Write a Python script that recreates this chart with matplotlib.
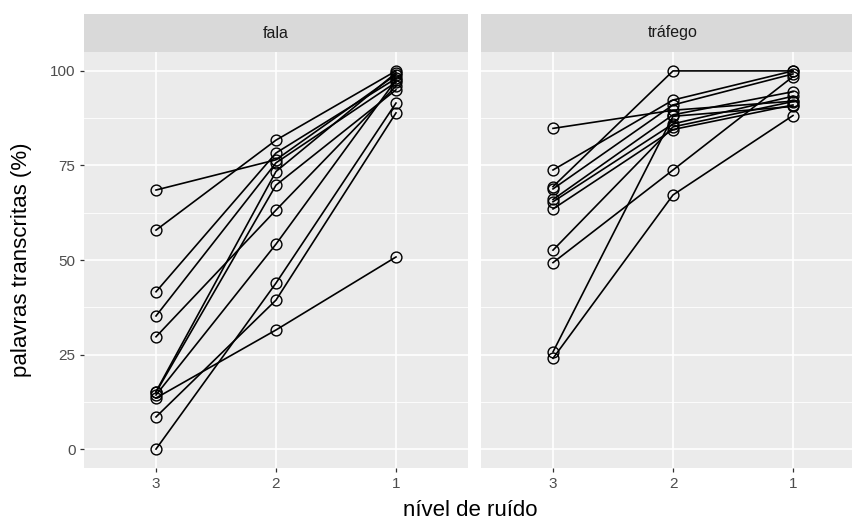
import matplotlib
matplotlib.use("Agg")
import matplotlib.pyplot as plt

plt.rcParams["font.family"] = ["Liberation Sans", "DejaVu Sans"]

# ---------------- data ----------------
levels = ["3", "2", "1"]
y_ticks = [0, 25, 50, 75, 100]
facets = ["fala", "tráfego"]

# fala: one entry per participant, level 3 -> 2 -> 1
fala_n3 = [68.5, 57.9, 41.6, 35.2, 29.7, 15.2, 15.0, 14.3, 13.5, 8.5, 0.0]
fala_n2 = [76.5, 81.7, 78.3, 75.7, 63.2, 73.4, 69.8, 54.2, 31.5, 39.4, 43.9]
fala_n1 = [99.0, 100.0, 98.0, 97.0, 96.0, 99.5, 95.0, 97.6, 50.8, 88.9, 91.5]

# tráfego
trafego_n3 = [84.8, 73.8, 69.4, 68.8, 66.0, 65.4, 63.5, 52.6, 49.3, 25.7, 24.0]
trafego_n2 = [89.6, 92.3, 100.0, 91.0, 88.4, 86.0, 84.5, 85.2, 73.8, 88.0, 67.2]
trafego_n1 = [92.0, 100.0, 100.0, 99.2, 94.5, 93.3, 91.0, 91.9, 98.5, 90.6, 88.2]

# ---------------- layout ----------------
W, H = 853, 525
fig = plt.figure(figsize=(W / 100, H / 100), dpi=100)
fig.patch.set_facecolor("white")


def px_axes(x0, y0, x1, y1):
    return fig.add_axes([x0 / W, 1 - y1 / H, (x1 - x0) / W, (y1 - y0) / H])


panel_top, panel_bot = 52, 468
strip_top = 14
panels_x = [(84, 468), (481, 865)]
data = [(fala_n3, fala_n2, fala_n1), (trafego_n3, trafego_n2, trafego_n1)]

for k, ((x0, x1), (n3, n2, n1), name) in enumerate(zip(panels_x, data, facets)):
    ax = px_axes(x0, panel_top, x1, panel_bot)
    ax.set_facecolor("#EBEBEB")
    for s in ax.spines.values():
        s.set_visible(False)
    ax.set_xlim(-0.6, 2.6)
    ax.set_ylim(-5, 105)
    ax.set_xticks(range(len(levels)))
    ax.set_xticklabels(levels)
    ax.set_yticks(y_ticks)
    ax.set_yticks([12.5, 37.5, 62.5, 87.5], minor=True)
    ax.grid(True, which="major", color="white", lw=1.2)
    ax.grid(True, which="minor", axis="y", color="white", lw=0.6)
    ax.set_axisbelow(True)
    ax.tick_params(axis="both", which="major", colors="#333333", length=3.2,
                   width=0.9, labelcolor="#4D4D4D", labelsize=11, pad=3)
    ax.tick_params(axis="both", which="minor", length=0)
    if k == 1:
        ax.tick_params(axis="y", which="major", left=False, labelleft=False)
    xs = list(range(len(levels)))
    for a, b, c in zip(n3, n2, n1):
        ax.plot(xs, [a, b, c], color="black", lw=1.2, zorder=3)
    for a, b, c in zip(n3, n2, n1):
        ax.plot(xs, [a, b, c], ls="none", marker="o", ms=7.8, mfc="none",
                mec="black", mew=1.0, zorder=4)

    sax = px_axes(x0, strip_top, x1, panel_top)
    sax.set_facecolor("#D9D9D9")
    for s in sax.spines.values():
        s.set_visible(False)
    sax.set_xticks([])
    sax.set_yticks([])
    cx = (276 + 120 * 0 - 84) / (468 - 84) if k == 0 else (673 - x0) / (x1 - x0)
    sax.text(cx, 0.5, name, ha="center", va="center", color="#1A1A1A",
             fontsize=11.5, transform=sax.transAxes)

fig.text(470 / W, 1 - 511 / H, "nível de ruído", ha="center", va="center",
         fontsize=16, color="black")
fig.text(22 / W, 1 - 260 / H, "palavras transcritas (%)", ha="center",
         va="center", rotation=90, fontsize=16, color="black")

fig.savefig("out.png", dpi=100)
